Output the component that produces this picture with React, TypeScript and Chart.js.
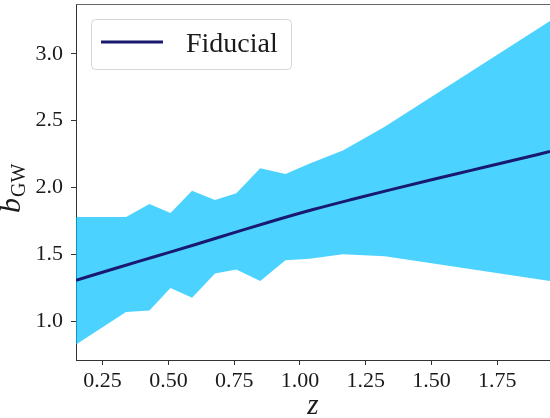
import React, { useEffect, useRef } from "react";
import { Chart, registerables } from "chart.js";

Chart.register(...registerables);

// Redshift nodes of the uncertainty band
const bandZ = [0.149, 0.339, 0.428, 0.508, 0.59, 0.677, 0.758, 0.849, 0.945, 1.037, 1.163, 1.322, 1.95];
const bandUpper = [1.78, 1.78, 1.876, 1.81, 1.976, 1.906, 1.957, 2.144, 2.1, 2.18, 2.276, 2.455, 3.245];
const bandLower = [0.825, 1.068, 1.08, 1.248, 1.176, 1.356, 1.386, 1.3, 1.456, 1.468, 1.5, 1.486, 1.3];

// Fiducial bias curve
const fidZ = [0.149, 0.3, 0.45, 0.6, 0.75, 0.9, 1.05, 1.2, 1.35, 1.5, 1.65, 1.8, 1.95];
const fidB = [1.306, 1.396, 1.484, 1.572, 1.662, 1.751, 1.835, 1.912, 1.986, 2.058, 2.128, 2.198, 2.269];

const xTicks = [0.25, 0.5, 0.75, 1.0, 1.25, 1.5, 1.75];
const yTicks = [1.0, 1.5, 2.0, 2.5, 3.0];

const legendLabel = "Fiducial";
const xTitle = "z";
const yTitleMain = "b";
const yTitleSub = "GW";

const SERIF = "'Liberation Serif', 'Times New Roman', serif";
const TEXT = "#1a1a1a";
const SPINE = "#333333";

const overlay = {
  id: "overlay",
  afterDraw(chart: any) {
    const { ctx, chartArea } = chart;
    ctx.save();
    // top spine
    ctx.strokeStyle = "#666666";
    ctx.lineWidth = 1;
    ctx.beginPath();
    ctx.moveTo(chartArea.left, Math.round(chartArea.top) + 0.5);
    ctx.lineTo(chartArea.right, Math.round(chartArea.top) + 0.5);
    ctx.stroke();

    // legend
    const lx = 91.5, ly = 19.5, lw = 200, lh = 50, r = 4;
    ctx.beginPath();
    ctx.moveTo(lx + r, ly);
    ctx.arcTo(lx + lw, ly, lx + lw, ly + lh, r);
    ctx.arcTo(lx + lw, ly + lh, lx, ly + lh, r);
    ctx.arcTo(lx, ly + lh, lx, ly, r);
    ctx.arcTo(lx, ly, lx + lw, ly, r);
    ctx.closePath();
    ctx.fillStyle = "rgba(255,255,255,0.8)";
    ctx.fill();
    ctx.strokeStyle = "#d6d6d6";
    ctx.stroke();
    ctx.strokeStyle = "#191970";
    ctx.lineWidth = 3;
    ctx.beginPath();
    ctx.moveTo(101, 42);
    ctx.lineTo(163, 42);
    ctx.stroke();
    ctx.fillStyle = TEXT;
    ctx.font = `28px ${SERIF}`;
    ctx.textAlign = "left";
    ctx.textBaseline = "alphabetic";
    ctx.fillText(legendLabel, 186, 52);

    // x title
    ctx.font = `italic 29px ${SERIF}`;
    ctx.textAlign = "center";
    ctx.fillText(xTitle, 313, 414);

    // y title (rotated, with subscript)
    ctx.translate(20, 213);
    ctx.rotate(-Math.PI / 2);
    ctx.textAlign = "left";
    ctx.font = `italic 30px ${SERIF}`;
    ctx.fillText(yTitleMain, 0, 0);
    const bw = ctx.measureText(yTitleMain).width;
    ctx.font = `20px ${SERIF}`;
    ctx.fillText(yTitleSub, bw + 1, 5);
    ctx.restore();
  },
};

export default function App() {
  const ref = useRef<HTMLCanvasElement | null>(null);
  useEffect(() => {
    document.body.style.margin = "0";
    const canvas = ref.current!;
    const chart = new Chart(canvas, {
      type: "line",
      data: {
        datasets: [
          {
            label: "lower",
            data: bandZ.map((z, i) => ({ x: z, y: bandLower[i] })),
            borderWidth: 0,
            pointRadius: 0,
            fill: false,
            tension: 0,
            order: 2,
          },
          {
            label: "upper",
            data: bandZ.map((z, i) => ({ x: z, y: bandUpper[i] })),
            borderWidth: 0,
            borderColor: "rgba(0,0,0,0)",
            backgroundColor: "rgba(0,191,255,0.7)",
            pointRadius: 0,
            fill: "-1",
            tension: 0,
            order: 1,
          },
          {
            label: legendLabel,
            data: fidZ.map((z, i) => ({ x: z, y: fidB[i] })),
            borderColor: "#191970",
            borderWidth: 3,
            pointRadius: 0,
            fill: false,
            cubicInterpolationMode: "monotone",
            order: 0,
          },
        ],
      },
      options: {
        animation: false,
        responsive: false,
        devicePixelRatio: 1,
        layout: { padding: { top: 4, right: 0, left: 0, bottom: 0 } },
        plugins: { legend: { display: false }, tooltip: { enabled: false } },
        scales: {
          x: {
            type: "linear",
            min: 0.149,
            max: 1.95,
            afterBuildTicks: (s: any) => {
              s.ticks = xTicks.map((v) => ({ value: v }));
            },
            afterFit: (s: any) => {
              s.height = 58;
              s.paddingLeft = 0;
              s.paddingRight = 0;
            },
            ticks: {
              autoSkip: false,
              maxRotation: 0,
              padding: 3,
              color: TEXT,
              font: { family: SERIF, size: 22 },
              callback: (v: any) => Number(v).toFixed(2),
            },
            grid: {
              display: true,
              drawOnChartArea: false,
              drawTicks: true,
              tickLength: 5,
              tickColor: SPINE,
              tickWidth: 1,
            },
            border: { display: true, color: SPINE, width: 1 },
          },
          y: {
            type: "linear",
            min: 0.71,
            max: 3.372,
            afterBuildTicks: (s: any) => {
              s.ticks = yTicks.map((v) => ({ value: v }));
            },
            afterFit: (s: any) => {
              s.width = 76;
              s.paddingTop = 0;
              s.paddingBottom = 0;
            },
            ticks: {
              autoSkip: false,
              padding: 8,
              color: TEXT,
              font: { family: SERIF, size: 22 },
              callback: (v: any) => Number(v).toFixed(1),
            },
            grid: {
              display: true,
              drawOnChartArea: false,
              drawTicks: true,
              tickLength: 5,
              tickColor: SPINE,
              tickWidth: 1,
            },
            border: { display: true, color: SPINE, width: 1 },
          },
        },
      },
      plugins: [overlay],
    });
    return () => chart.destroy();
  }, []);
  return (
    <div style={{ width: 550, height: 418 }}>
      <canvas ref={ref} width={550} height={418} style={{ display: "block" }} />
    </div>
  );
}
